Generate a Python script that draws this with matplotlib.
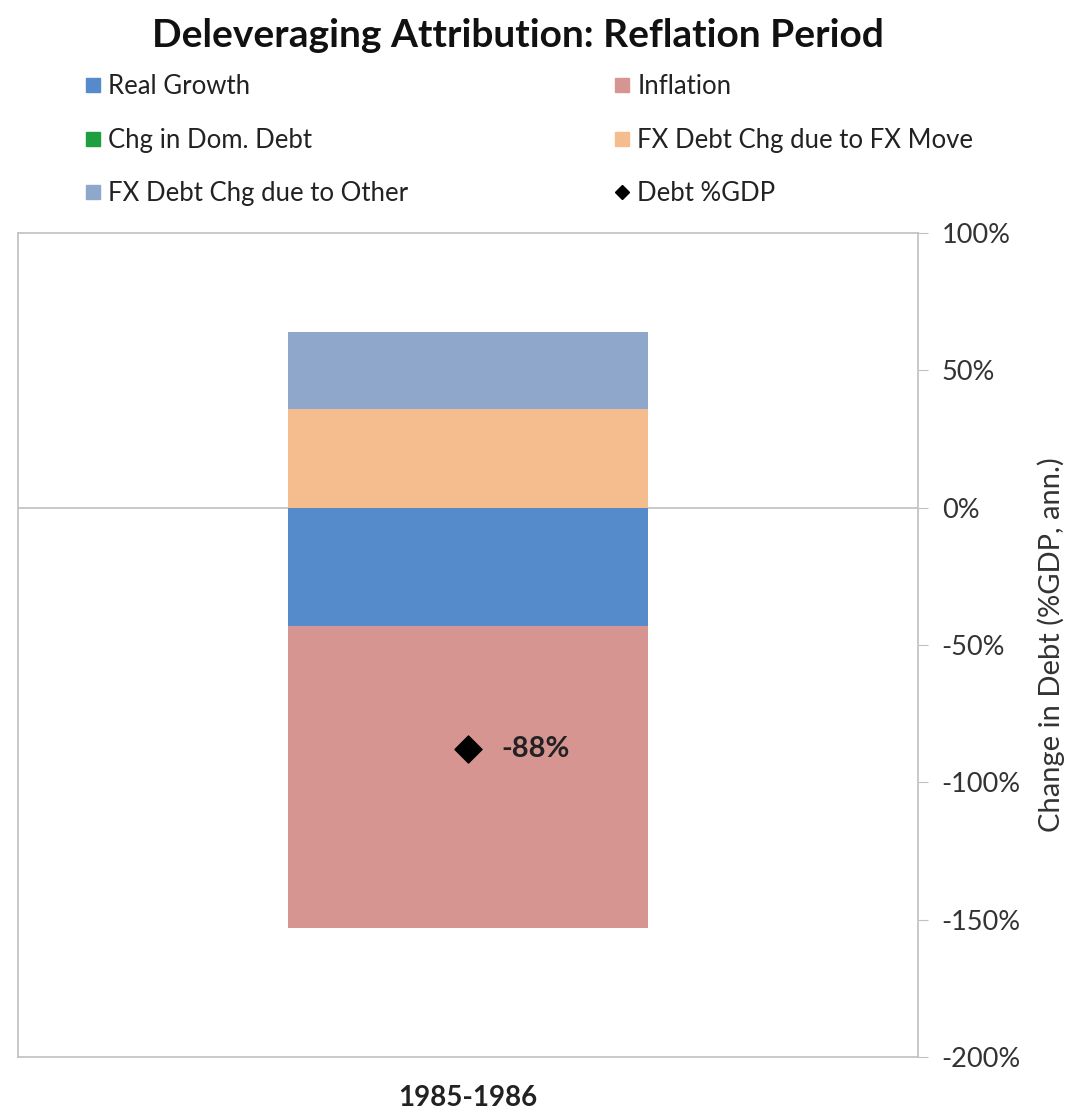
import matplotlib
matplotlib.use("Agg")
import matplotlib.pyplot as plt
from matplotlib.lines import Line2D
from matplotlib.ticker import FuncFormatter

plt.rcParams["font.family"] = ["Lato", "DejaVu Sans"]

# Data (percent of GDP, annualised)
period = ["1985-1986"]
real_growth = [-43]
inflation = [-110]
dom_debt = [0]
fx_move = [36]
fx_other = [28]
debt_gdp = [-88]

BLUE = "#558acb"
PINK = "#d79591"
GREEN = "#1e9e3e"
ORANGE = "#f5bc8e"
LBLUE = "#8ea7cb"
SPINE = "#c0c0c0"

fig = plt.figure(figsize=(10.73, 11.14), dpi=100)
ax = fig.add_axes([0.0168, 0.0512, 0.8388, 0.7396])

x = range(len(period))
w = 0.4
ax.bar(x, real_growth, w, color=BLUE, zorder=2)
ax.bar(x, inflation, w, bottom=real_growth, color=PINK, zorder=2)
ax.bar(x, dom_debt, w, color=GREEN, zorder=2)
ax.bar(x, fx_move, w, color=ORANGE, zorder=2)
ax.bar(x, fx_other, w, bottom=fx_move, color=LBLUE, zorder=2)
ax.scatter(x, debt_gdp, marker="D", s=190, color="black", zorder=3)
for i, v in enumerate(debt_gdp):
    ax.annotate(f"{v:.0f}%", (i, v), xytext=(24, 0), textcoords="offset points",
                va="center", ha="left", fontsize=21, fontweight="bold", color="#222222")

ax.axhline(0, color=SPINE, lw=1.2, zorder=1)
ax.set_xlim(-0.5, 0.5)
ax.set_ylim(-200, 100)
ax.set_yticks(range(-200, 101, 50))
ax.yaxis.set_major_formatter(FuncFormatter(lambda v, p: f"{v:.0f}%"))
ax.yaxis.tick_right()
ax.yaxis.set_label_position("right")
ax.tick_params(axis="y", direction="out", length=7, color=SPINE, labelsize=19.5,
               labelcolor="#333333", pad=10)
ax.set_xticks(list(x))
ax.set_xticklabels(period, fontsize=20, fontweight="bold", color="#222222")
ax.tick_params(axis="x", length=0, pad=20)
ax.set_ylabel("Change in Debt (%GDP, ann.)", fontsize=21, color="#333333", labelpad=12)
for s in ax.spines.values():
    s.set_color(SPINE)
    s.set_linewidth(1.2)

fig.text(0.483, 0.968, "Deleveraging Attribution: Reflation Period", ha="center",
         va="center", fontsize=28, fontweight="bold", color="#111111")

handles = [
    Line2D([], [], marker="s", ls="", color=BLUE, markersize=10),
    Line2D([], [], marker="s", ls="", color=GREEN, markersize=10),
    Line2D([], [], marker="s", ls="", color=LBLUE, markersize=10),
    Line2D([], [], marker="s", ls="", color=PINK, markersize=10),
    Line2D([], [], marker="s", ls="", color=ORANGE, markersize=10),
    Line2D([], [], marker="D", ls="", color="black", markersize=7.5),
]
labels = ["Real Growth", "Chg in Dom. Debt", "FX Debt Chg due to Other",
          "Inflation", "FX Debt Chg due to FX Move", "Debt %GDP"]
fig.legend(handles, labels, ncol=2, loc="upper left", bbox_to_anchor=(0.058, 0.954),
           frameon=False, fontsize=18.5, handlelength=0.6, handletextpad=0.3,
           columnspacing=8.0, labelspacing=1.1, labelcolor="#222222")

fig.savefig("out.png", dpi=100)
